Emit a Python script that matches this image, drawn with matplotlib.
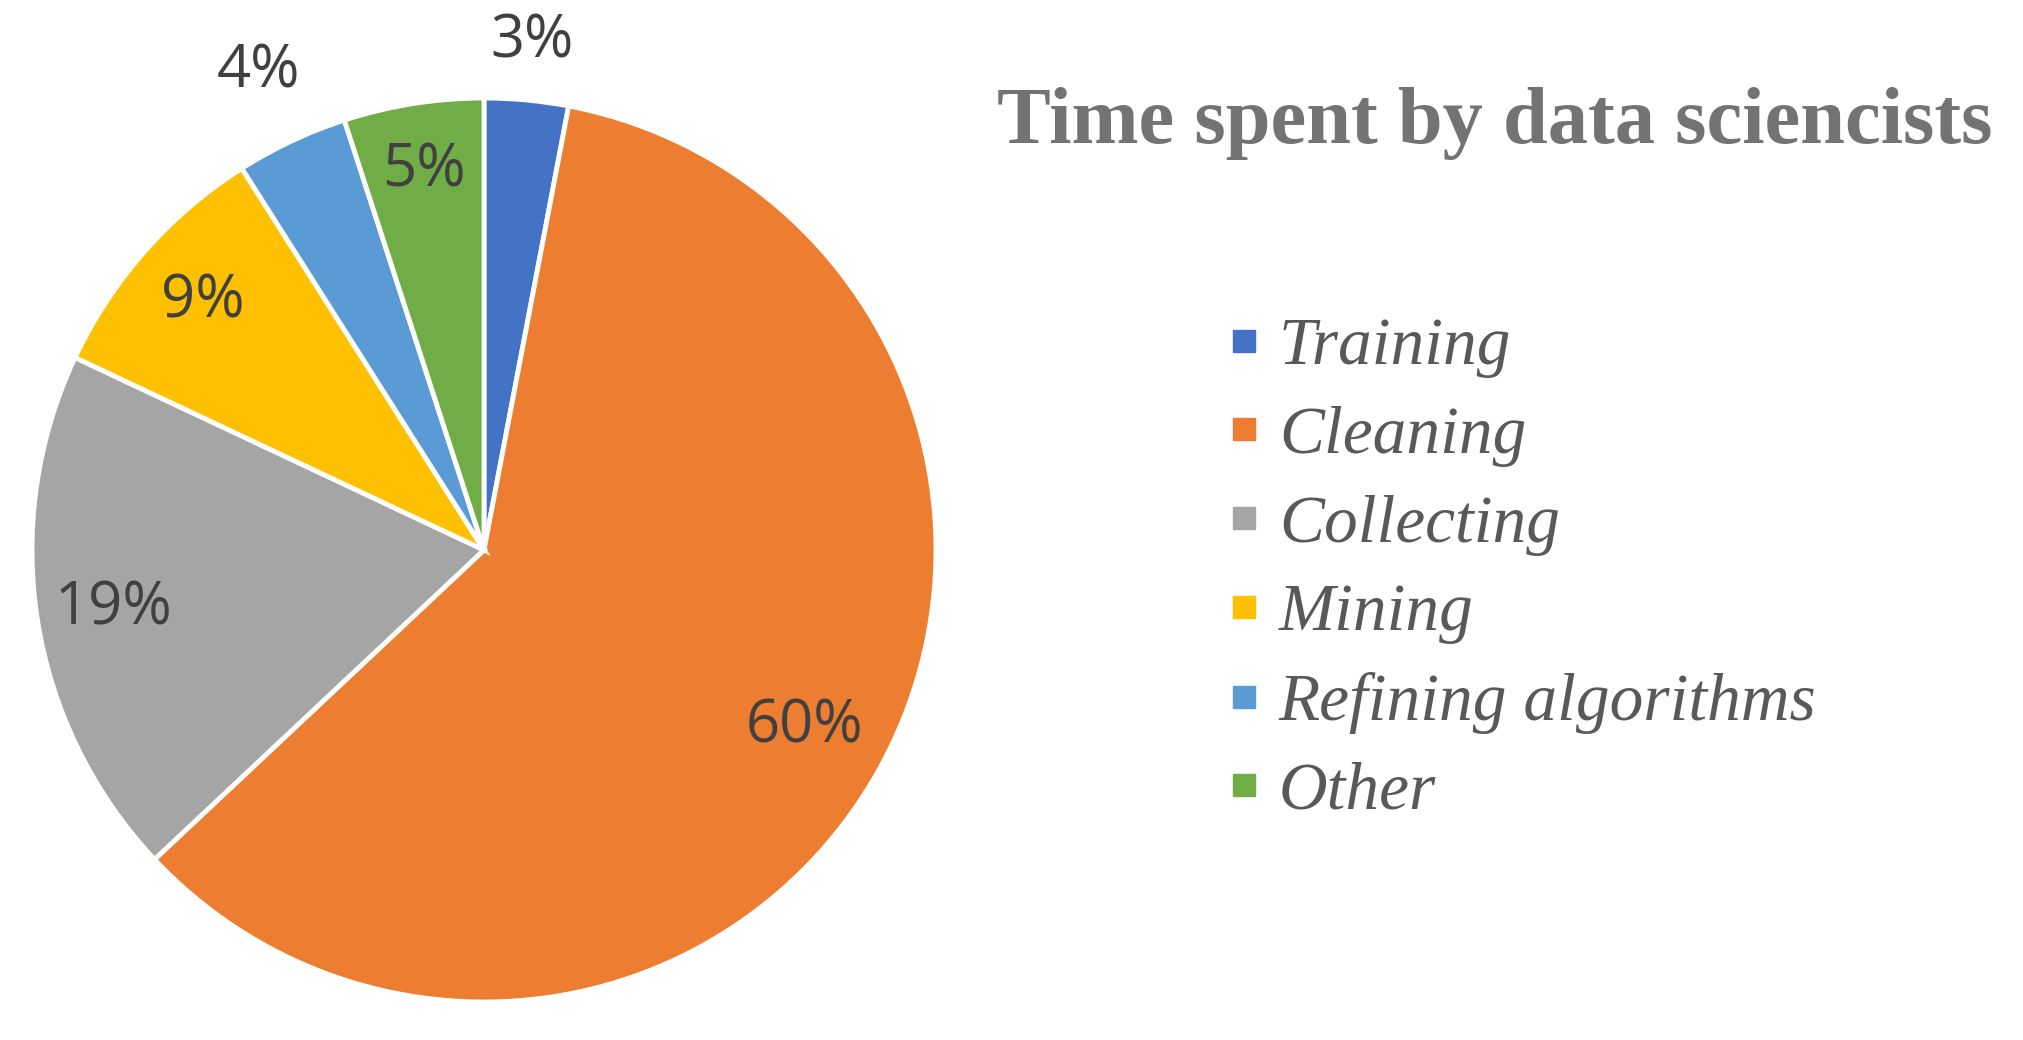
import matplotlib.pyplot as plt
import numpy as np
from matplotlib.lines import Line2D

# data
categories = ['Training', 'Cleaning', 'Collecting', 'Mining', 'Refining algorithms', 'Other']
shares = [3, 60, 19, 9, 4, 5]
colors = ['#4472C4', '#ED7D31', '#A5A5A5', '#FFC000', '#5B9BD5', '#70AD47']
title = 'Time spent by data sciencists'

# label distance from centre, per slice (3% and 4% sit outside)
label_r = [1.13, 0.81, 0.83, 0.83, 1.17, 0.85]

W, H = 2023, 1040
fig = plt.figure(figsize=(W / 100, H / 100), dpi=100)

cx, cy, r = 484, 550, 452
ax = fig.add_axes([(cx - r) / W, (H - cy - r) / H, 2 * r / W, 2 * r / H])

wedges, texts, autotexts = ax.pie(
    shares, colors=colors, startangle=90, counterclock=False,
    autopct='%d%%', pctdistance=0.82,
    wedgeprops=dict(edgecolor='white', linewidth=3.5),
    textprops=dict(fontsize=43, color='#404040', family='Open Sans'))

for w, t, d in zip(wedges, autotexts, label_r):
    ang = np.deg2rad((w.theta1 + w.theta2) / 2)
    t.set_position((d * np.cos(ang), d * np.sin(ang)))
    t.set_ha('center')
    t.set_va('center')

ax.set_xlim(-1, 1)
ax.set_ylim(-1, 1)
ax.set_aspect('equal')
ax.axis('off')

fig.text(1495 / W, 1 - 124 / H, title, ha='center', va='center',
         fontsize=58, fontweight='bold', family='Liberation Serif', color='#737373')

handles = [Line2D([], [], marker='s', linestyle='', color=c, markersize=16.5) for c in colors]
leg = fig.legend(handles, categories, loc='upper left',
                 bbox_to_anchor=(1233 / W, 1 - 317 / H), frameon=False,
                 borderpad=0, borderaxespad=0, handlelength=0.34, handletextpad=0.34,
                 labelspacing=0.41,
                 prop=dict(family='Liberation Serif', style='italic', size=48.5))
for t in leg.get_texts():
    t.set_color('#595959')

fig.savefig('out.png', dpi=100, facecolor='white')
